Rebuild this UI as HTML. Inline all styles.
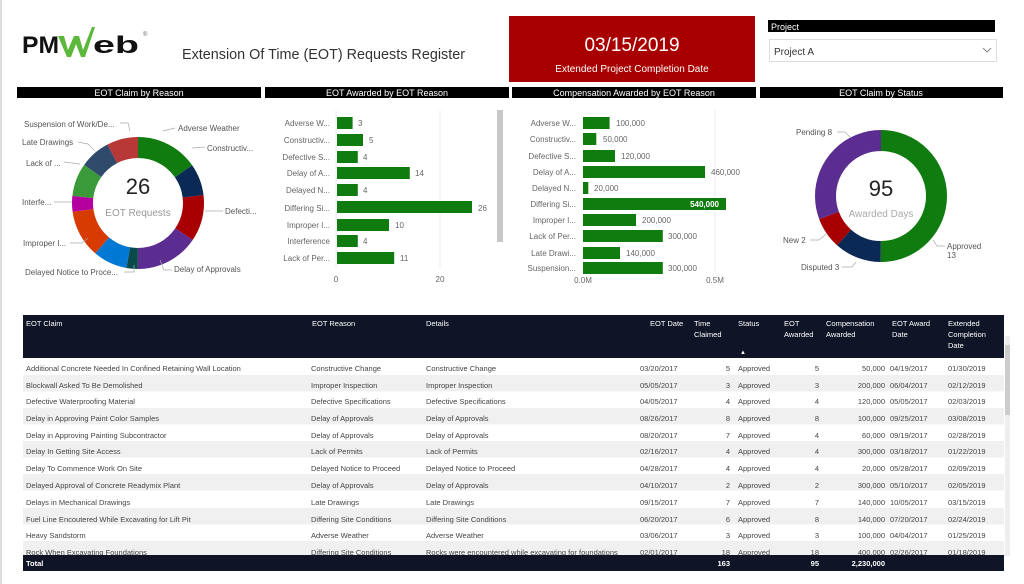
<!DOCTYPE html>
<html><head><meta charset="utf-8"><style>
html,body{margin:0;padding:0;background:#fff;}
svg{display:block;font-family:"Liberation Sans",sans-serif;}
</style></head><body>
<svg width="1024" height="584" viewBox="0 0 1024 584" xmlns="http://www.w3.org/2000/svg">
<rect x="0" y="0" width="1024" height="584" fill="#fff"/>
<rect x="0" y="0" width="2" height="584" fill="#ddd"/>
<!-- logo -->
<text x="22" y="53" font-size="24" font-weight="bold" fill="#111" textLength="37" lengthAdjust="spacingAndGlyphs">PM</text>
<path d="M58 36 L64 36 L68 50 L74 36 L79 36 L83 50 L92 27 L95 27 L85 57 L81 57 L76 44 L71 57 L67 57 Z" fill="#5cb83a"/>
<text x="93" y="53" font-size="24" font-weight="bold" fill="#111" textLength="46" lengthAdjust="spacingAndGlyphs">eb</text>
<text x="143" y="36" font-size="6" fill="#666">®</text>
<text x="182" y="59" font-size="15" fill="#333" textLength="283" lengthAdjust="spacingAndGlyphs">Extension Of Time (EOT) Requests Register</text>
<!-- red box -->
<rect x="509" y="16" width="246" height="66" fill="#a80000"/>
<text x="632" y="51" font-size="19" fill="#fff" text-anchor="middle">03/15/2019</text>
<text x="632" y="72" font-size="10" fill="#fff" text-anchor="middle">Extended Project Completion Date</text>
<!-- project slicer -->
<rect x="768" y="20" width="227" height="12" fill="#000"/>
<text x="771" y="30" font-size="9" fill="#fff">Project</text>
<rect x="769.5" y="39.5" width="227" height="22" fill="#fff" stroke="#ddd"/>
<text x="774" y="55" font-size="10" fill="#333">Project A</text>
<path d="M983 48 L987 52 L991 48" fill="none" stroke="#888" stroke-width="1"/>
<!-- section title bars -->
<g font-size="9" fill="#fff" text-anchor="middle">
<rect x="17" y="87" width="244" height="11" fill="#000"/><text x="139" y="96">EOT Claim by Reason</text>
<rect x="265" y="87" width="244" height="11" fill="#000"/><text x="387" y="96">EOT Awarded by EOT Reason</text>
<rect x="512" y="87" width="244" height="11" fill="#000"/><text x="634" y="96">Compensation Awarded by EOT Reason</text>
<rect x="760" y="87" width="243" height="11" fill="#000"/><text x="881" y="96">EOT Claim by Status</text>
</g>
<!-- left donut -->
<g transform="translate(138,203) rotate(-90)" fill="none" stroke-width="21">
<circle r="55.5" stroke="#107c10" stroke-dasharray="53.3 400" stroke-dashoffset="0"/>
<circle r="55.5" stroke="#0a2a55" stroke-dasharray="27.1 400" stroke-dashoffset="-53.3"/>
<circle r="55.5" stroke="#a80000" stroke-dasharray="39.7 400" stroke-dashoffset="-80.4"/>
<circle r="55.5" stroke="#5c2d91" stroke-dasharray="54.2 400" stroke-dashoffset="-120.1"/>
<circle r="55.5" stroke="#0b4a4a" stroke-dasharray="9.7 400" stroke-dashoffset="-174.3"/>
<circle r="55.5" stroke="#0078d4" stroke-dasharray="29.1 400" stroke-dashoffset="-184"/>
<circle r="55.5" stroke="#d83b01" stroke-dasharray="40.7 400" stroke-dashoffset="-213.1"/>
<circle r="55.5" stroke="#b4009e" stroke-dasharray="13.6 400" stroke-dashoffset="-253.8"/>
<circle r="55.5" stroke="#3a9a3a" stroke-dasharray="28.1 400" stroke-dashoffset="-267.4"/>
<circle r="55.5" stroke="#2f4a6a" stroke-dasharray="26.2 400" stroke-dashoffset="-295.5"/>
<circle r="55.5" stroke="#b83838" stroke-dasharray="27.2 400" stroke-dashoffset="-321.7"/>
</g>
<text x="138" y="194" font-size="22" fill="#222" text-anchor="middle">26</text>
<text x="138" y="216" font-size="10" fill="#999" text-anchor="middle">EOT Requests</text>
<g font-size="8" fill="#555">
<text x="24" y="127">Suspension of Work/De...</text>
<text x="178" y="131">Adverse Weather</text>
<text x="22" y="145">Late Drawings</text>
<text x="207" y="151">Constructiv...</text>
<text x="26" y="166">Lack of ...</text>
<text x="22" y="205">Interfe...</text>
<text x="225" y="214">Defecti...</text>
<text x="23" y="246">Improper I...</text>
<text x="174" y="272">Delay of Approvals</text>
<text x="25" y="275">Delayed Notice to Proce...</text>
</g>
<g stroke="#aaa" fill="none" stroke-width="0.7">
<path d="M120 123 L128 123 L130 131"/><path d="M163 131 L175 128"/><path d="M78 142 L88 144 L94 150"/>
<path d="M192 148 L205 147"/><path d="M64 162 L80 164"/><path d="M54 202 L72 202"/><path d="M205 211 L223 211"/>
<path d="M70 243 L82 243 L88 238"/><path d="M160 260 L164 270 L172 270"/><path d="M124 272 L134 272 L134 265"/>
</g>
<!-- bar chart 2 -->
<line x1="440" y1="110" x2="440" y2="268" stroke="#eee"/>
<line x1="336" y1="110" x2="336" y2="268" stroke="#eee"/>
<rect x="497" y="110" width="6" height="132" fill="#c8c8c8"/>
<g fill="#107c10">
<rect x="337" y="117" width="15.6" height="12"/>
<rect x="337" y="134" width="26" height="12"/>
<rect x="337" y="151" width="20.8" height="12"/>
<rect x="337" y="167" width="72.8" height="12"/>
<rect x="337" y="184" width="20.8" height="12"/>
<rect x="337" y="201" width="135" height="12"/>
<rect x="337" y="219" width="52" height="12"/>
<rect x="337" y="235" width="20.8" height="12"/>
<rect x="337" y="252" width="57.2" height="12"/>
</g>
<g font-size="8" fill="#666" text-anchor="end">
<text x="330" y="126">Adverse W...</text><text x="330" y="143">Constructiv...</text><text x="330" y="160">Defective S...</text>
<text x="330" y="176">Delay of A...</text><text x="330" y="193">Delayed N...</text><text x="330" y="211">Differing Si...</text>
<text x="330" y="228">Improper I...</text><text x="330" y="244">Interference</text><text x="330" y="261">Lack of Per...</text>
</g>
<g font-size="8" fill="#666">
<text x="358" y="126">3</text><text x="369" y="143">5</text><text x="363" y="160">4</text><text x="415" y="176">14</text>
<text x="363" y="193">4</text><text x="478" y="211">26</text><text x="395" y="228">10</text><text x="363" y="244">4</text><text x="400" y="261">11</text>
<text x="336" y="282" text-anchor="middle">0</text><text x="440" y="282" text-anchor="middle">20</text>
</g>
<!-- bar chart 3 -->
<line x1="715" y1="110" x2="715" y2="272" stroke="#eee"/>
<g fill="#107c10">
<rect x="583" y="117" width="26.6" height="12"/>
<rect x="583" y="133" width="13.3" height="12"/>
<rect x="583" y="150" width="32" height="12"/>
<rect x="583" y="166" width="122" height="12"/>
<rect x="583" y="182" width="5.3" height="12"/>
<rect x="583" y="198" width="143" height="12"/>
<rect x="583" y="214" width="53" height="12"/>
<rect x="583" y="230" width="79.8" height="12"/>
<rect x="583" y="247" width="37" height="12"/>
<rect x="583" y="262" width="79.8" height="12"/>
</g>
<g font-size="8" fill="#666" text-anchor="end">
<text x="576" y="126">Adverse W...</text><text x="576" y="142">Constructiv...</text><text x="576" y="159">Defective S...</text>
<text x="576" y="175">Delay of A...</text><text x="576" y="191">Delayed N...</text><text x="576" y="207">Differing Si...</text>
<text x="576" y="223">Improper I...</text><text x="576" y="239">Lack of Per...</text><text x="576" y="256">Late Drawi...</text><text x="576" y="271">Suspension...</text>
</g>
<g font-size="8" fill="#666">
<text x="616" y="126">100,000</text><text x="603" y="142">50,000</text><text x="621" y="159">120,000</text><text x="711" y="175">460,000</text>
<text x="594" y="191">20,000</text><text x="642" y="223">200,000</text><text x="668" y="239">300,000</text>
<text x="626" y="256">140,000</text><text x="668" y="271">300,000</text>
<text x="583" y="283" text-anchor="middle">0.0M</text><text x="715" y="283" text-anchor="middle">0.5M</text>
</g>
<text x="719" y="207" font-size="8" font-weight="bold" fill="#fff" text-anchor="end">540,000</text>
<!-- right donut -->
<g transform="translate(881,196) rotate(-90)" fill="none" stroke-width="21">
<circle r="55.5" stroke="#107c10" stroke-dasharray="174.4 400" stroke-dashoffset="0"/>
<circle r="55.5" stroke="#0a2a55" stroke-dasharray="40.2 400" stroke-dashoffset="-174.4"/>
<circle r="55.5" stroke="#a80000" stroke-dasharray="26.8 400" stroke-dashoffset="-214.6"/>
<circle r="55.5" stroke="#5c2d91" stroke-dasharray="107.4 400" stroke-dashoffset="-241.4"/>
</g>
<text x="881" y="196" font-size="22" fill="#222" text-anchor="middle">95</text>
<text x="881" y="217" font-size="10" fill="#aaa" text-anchor="middle">Awarded Days</text>
<g font-size="8" fill="#555">
<text x="796" y="135">Pending 8</text><text x="783" y="243">New 2</text><text x="801" y="270">Disputed 3</text>
<text x="947" y="249">Approved</text><text x="947" y="258">13</text>
</g>
<g stroke="#aaa" fill="none" stroke-width="0.7">
<path d="M837 132 L845 132 L850 137"/><path d="M810 240 L819 240 L826 234"/><path d="M842 267 L852 267 L856 262"/><path d="M933 240 L937 246 L945 246"/>
</g>
<!-- table -->
<rect x="23" y="315" width="981" height="43" fill="#0f1427"/>
<g font-size="7.5" fill="#fff">
<text x="26" y="326">EOT Claim</text><text x="312" y="326">EOT Reason</text><text x="426" y="326">Details</text>
<text x="650" y="326">EOT Date</text><text x="694" y="326">Time</text><text x="694" y="337">Claimed</text>
<text x="738" y="326">Status</text><text x="740" y="354" font-size="6">▲</text>
<text x="784" y="326">EOT</text><text x="784" y="337">Awarded</text>
<text x="826" y="326">Compensation</text><text x="826" y="337">Awarded</text>
<text x="892" y="326">EOT Award</text><text x="892" y="337">Date</text>
<text x="948" y="326">Extended</text><text x="948" y="337">Completion</text><text x="948" y="348">Date</text>
</g>
<g fill="#f0f0f0">
<rect x="23" y="375" width="981" height="16.5"/><rect x="23" y="408" width="981" height="16.5"/>
<rect x="23" y="441" width="981" height="16.5"/><rect x="23" y="474" width="981" height="16.5"/>
<rect x="23" y="508" width="981" height="16.5"/><rect x="23" y="541" width="981" height="14"/>
</g>
<g font-size="7.5" fill="#444">
<g>
<text x="26" y="371">Additional Concrete Needed In Confined Retaining Wall Location</text>
<text x="26" y="388">Blockwall Asked To Be Demolished</text>
<text x="26" y="404">Defective Waterproofing Material</text>
<text x="26" y="421">Delay in Approving Paint Color Samples</text>
<text x="26" y="438">Delay in Approving Painting Subcontractor</text>
<text x="26" y="454">Delay In Getting Site Access</text>
<text x="26" y="471">Delay To Commence Work On Site</text>
<text x="26" y="488">Delayed Approval of Concrete Readymix Plant</text>
<text x="26" y="505">Delays in Mechanical Drawings</text>
<text x="26" y="522">Fuel Line Encoutered While Excavating for Lift Pit</text>
<text x="26" y="538">Heavy Sandstorm</text>
<text x="26" y="555">Rock When Excavating Foundations</text>
</g>
<text x="311" y="371">Constructive Change</text><text x="426" y="371">Constructive Change</text>
<text x="311" y="388">Improper Inspection</text><text x="426" y="388">Improper Inspection</text>
<text x="311" y="404">Defective Specifications</text><text x="426" y="404">Defective Specifications</text>
<text x="311" y="421">Delay of Approvals</text><text x="426" y="421">Delay of Approvals</text>
<text x="311" y="438">Delay of Approvals</text><text x="426" y="438">Delay of Approvals</text>
<text x="311" y="454">Lack of Permits</text><text x="426" y="454">Lack of Permits</text>
<text x="311" y="471">Delayed Notice to Proceed</text><text x="426" y="471">Delayed Notice to Proceed</text>
<text x="311" y="488">Delay of Approvals</text><text x="426" y="488">Delay of Approvals</text>
<text x="311" y="505">Late Drawings</text><text x="426" y="505">Late Drawings</text>
<text x="311" y="522">Differing Site Conditions</text><text x="426" y="522">Differing Site Conditions</text>
<text x="311" y="538">Adverse Weather</text><text x="426" y="538">Adverse Weather</text>
<text x="311" y="555">Differing Site Conditions</text><text x="426" y="555">Rocks were encountered while excavating for foundations</text>
<g>
<text x="640" y="371">03/20/2017</text><text x="640" y="388">05/05/2017</text><text x="640" y="404">04/05/2017</text><text x="640" y="421">08/26/2017</text>
<text x="640" y="438">08/20/2017</text><text x="640" y="454">02/16/2017</text><text x="640" y="471">04/28/2017</text><text x="640" y="488">04/10/2017</text>
<text x="640" y="505">09/15/2017</text><text x="640" y="522">06/20/2017</text><text x="640" y="538">03/06/2017</text><text x="640" y="555">02/01/2017</text>
</g>
<g text-anchor="end">
<text x="730" y="371">5</text><text x="730" y="388">3</text><text x="730" y="404">4</text><text x="730" y="421">8</text><text x="730" y="438">7</text><text x="730" y="454">4</text>
<text x="730" y="471">4</text><text x="730" y="488">2</text><text x="730" y="505">7</text><text x="730" y="522">6</text><text x="730" y="538">3</text><text x="730" y="555">18</text>
<text x="819" y="371">5</text><text x="819" y="388">3</text><text x="819" y="404">4</text><text x="819" y="421">8</text><text x="819" y="438">4</text><text x="819" y="454">4</text>
<text x="819" y="471">4</text><text x="819" y="488">2</text><text x="819" y="505">7</text><text x="819" y="522">8</text><text x="819" y="538">3</text><text x="819" y="555">18</text>
<text x="885" y="371">50,000</text><text x="885" y="388">200,000</text><text x="885" y="404">120,000</text><text x="885" y="421">100,000</text>
<text x="885" y="438">60,000</text><text x="885" y="454">300,000</text><text x="885" y="471">20,000</text><text x="885" y="488">300,000</text>
<text x="885" y="505">140,000</text><text x="885" y="522">140,000</text><text x="885" y="538">100,000</text><text x="885" y="555">400,000</text>
</g>
<g>
<text x="738" y="371">Approved</text><text x="738" y="388">Approved</text><text x="738" y="404">Approved</text><text x="738" y="421">Approved</text>
<text x="738" y="438">Approved</text><text x="738" y="454">Approved</text><text x="738" y="471">Approved</text><text x="738" y="488">Approved</text>
<text x="738" y="505">Approved</text><text x="738" y="522">Approved</text><text x="738" y="538">Approved</text><text x="738" y="555">Approved</text>
<text x="890" y="371">04/19/2017</text><text x="890" y="388">06/04/2017</text><text x="890" y="404">05/05/2017</text><text x="890" y="421">09/25/2017</text>
<text x="890" y="438">09/19/2017</text><text x="890" y="454">03/18/2017</text><text x="890" y="471">05/28/2017</text><text x="890" y="488">05/10/2017</text>
<text x="890" y="505">10/05/2017</text><text x="890" y="522">07/20/2017</text><text x="890" y="538">04/04/2017</text><text x="890" y="555">02/26/2017</text>
<text x="948" y="371">01/30/2019</text><text x="948" y="388">02/12/2019</text><text x="948" y="404">02/03/2019</text><text x="948" y="421">03/08/2019</text>
<text x="948" y="438">02/28/2019</text><text x="948" y="454">01/22/2019</text><text x="948" y="471">02/09/2019</text><text x="948" y="488">02/05/2019</text>
<text x="948" y="505">03/15/2019</text><text x="948" y="522">02/24/2019</text><text x="948" y="538">01/25/2019</text><text x="948" y="555">01/18/2019</text>
</g>
</g>
<rect x="23" y="555" width="981" height="16" fill="#0f1427"/>
<g font-size="7.5" fill="#fff" font-weight="bold">
<text x="26" y="566">Total</text>
<text x="730" y="566" text-anchor="end">163</text><text x="819" y="566" text-anchor="end">95</text><text x="885" y="566" text-anchor="end">2,230,000</text>
</g>
<rect x="1005" y="336" width="5" height="220" fill="#eee"/>
<rect x="1005" y="345" width="5" height="70" fill="#ccc"/>
</svg>
</body></html>
